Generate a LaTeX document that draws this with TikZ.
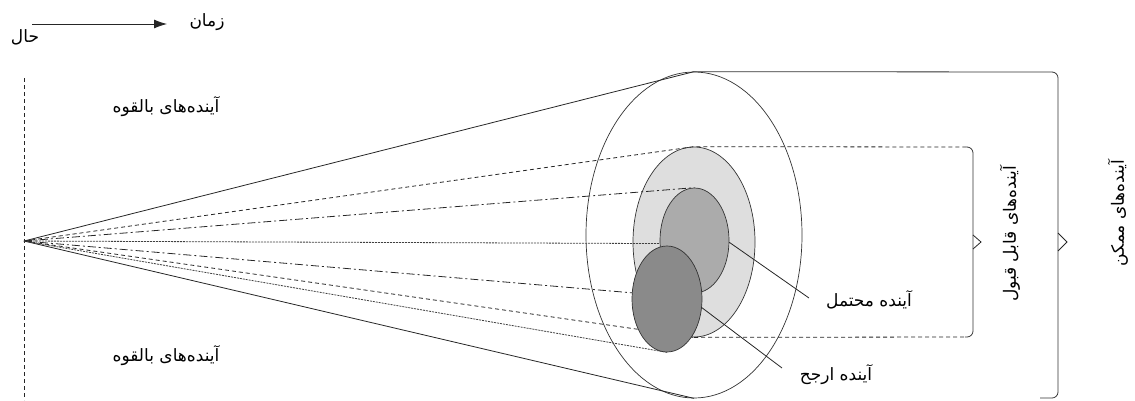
\documentclass[tikz,border=0pt]{standalone}
\usepackage{fontspec}
\TeXXeTstate=1
\newfontfamily\fa[Script=Arabic]{DejaVu Sans}
\usetikzlibrary{shapes.geometric,arrows.meta}
\pgfdeclarelayer{bg}
\pgfdeclarelayer{lines}
\pgfsetlayers{bg,lines,main}
\definecolor{lgc}{gray}{0.87}
\definecolor{mgc}{gray}{0.67}
\definecolor{dgc}{gray}{0.54}
\begin{document}
\begin{tikzpicture}[x=1pt,y=-1pt,
  lab/.style={font=\fa\fontsize{17}{20}\selectfont, inner sep=0pt},
  ell/.style={ellipse, draw=black!80, line width=0.7pt, inner sep=0pt},
  sol/.style={line width=0.8pt, draw=black!85},
  dsh/.style={line width=0.8pt, draw=black!85, dash pattern=on 4pt off 3pt},
  dshdot/.style={line width=0.8pt, draw=black!85, dash pattern=on 8pt off 3pt on 2pt off 3pt},
  fine/.style={line width=0.8pt, draw=black!75, dash pattern=on 2pt off 1pt},
  bracestyle/.style={line width=0.8pt, draw=black!80, rounded corners=6pt}
]
\useasboundingbox (0,0) rectangle (1135,400);
\coordinate (apex) at (24,241);
\coordinate (vtop) at (24,78);
\coordinate (vbot) at (24,400);
\begin{pgfonlayer}{bg}
\node[ell, minimum width=216pt, minimum height=326pt] (big) at (694,235) {};
\node[ell, fill=lgc, minimum width=122pt, minimum height=190pt] (lg) at (694,242) {};
\end{pgfonlayer}
\node[ell, fill=mgc, minimum width=69pt, minimum height=105pt] (mg) at (694.5,240.5) {};
\node[ell, fill=dgc, minimum width=70pt, minimum height=106pt] (dg) at (667,299) {};

% labels
\node[lab] (zaman) at (207,22) {\beginR زمان\endR};
\node[lab] (hal) at (25,37) {\beginR حال\endR};
\node[lab] (potTop) at (166,107) {\beginR آینده^^^^200cهای بالقوه\endR};
\node[lab] (potBot) at (166,356) {\beginR آینده^^^^200cهای بالقوه\endR};
\node[lab] (prob) at (869,300) {\beginR آینده محتمل\endR};
\node[lab] (pref) at (836,375) {\beginR آینده ارجح\endR};
\node[lab, rotate=90] (plaus) at (1010,234) {\beginR آینده^^^^200cهای قابل قبول\endR};
\node[lab, rotate=90] (poss) at (1118,213) {\beginR آینده^^^^200cهای ممکن\endR};

\coordinate (arrS) at (32,24);
\coordinate (arrE) at (167,24);
\coordinate (probEnd) at (809,298);
\coordinate (prefEnd) at (782,368);
\coordinate (obT) at (1058,72);
\coordinate (obB) at (1058,398);
\coordinate (obBe) at (1040,398);
\coordinate (ibT) at (973,147);
\coordinate (ibB) at (973,337);
\coordinate (ibTs) at (965,147);
\coordinate (ibBs) at (965,337);

\begin{pgfonlayer}{lines}
\draw[sol, -{Latex[length=13pt,width=9pt]}] (arrS) -- (arrE);
\draw[dsh] (vtop) -- (vbot);
\draw[sol] (apex) -- (big.north);
\draw[sol] (apex) -- (big.south);
\draw[dsh] (apex) -- (lg.north) -- (ibTs);
\draw[dsh] (apex) -- (lg.south);
\draw[dsh] (lg.south) -- (ibBs);
\draw[dshdot] (apex) -- (mg.north);
\draw[fine] (apex) -- (mg.185);
\draw[dshdot] (apex) -- (dg.170);
\draw[fine] (apex) -- (dg.south);
\draw[bracestyle] (big.north) -- (obT) -- (obB) -- (obBe);
\draw[sol] (1058,233) -- (1067,242) -- (1058,251);
\draw[bracestyle] (ibTs) -- (ibT) -- (ibB) -- (ibBs);
\draw[sol] (973,235) -- (981,242) -- (973,249);
\end{pgfonlayer}
\draw[sol] (mg.-3) -- (probEnd);
\draw[sol] (dg.-14) -- (prefEnd);
\end{tikzpicture}
\end{document}
